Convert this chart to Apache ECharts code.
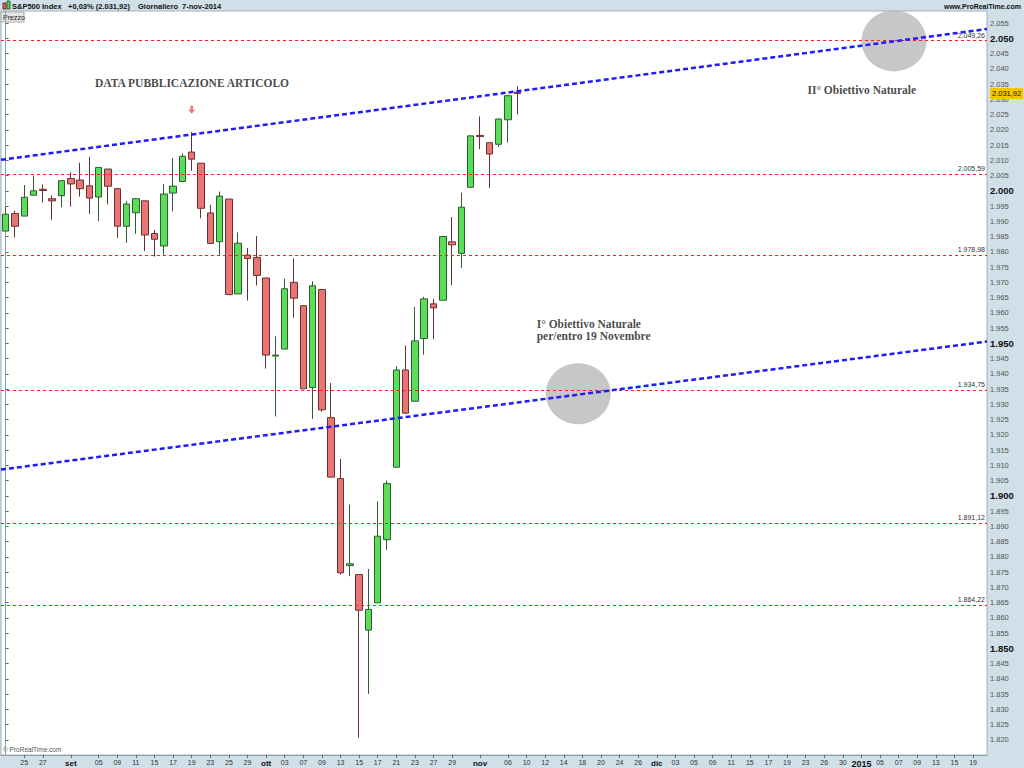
<!DOCTYPE html>
<html><head><meta charset="utf-8">
<script src="https://cdn.jsdelivr.net/npm/echarts@6/dist/echarts.min.js"></script>
<style>html,body{margin:0;padding:0;background:#fff}#c{width:1024px;height:768px}</style>
</head><body><div id="c"></div>
<script>
// ---------- DATA ----------
const dates = [
 '2014-08-21','2014-08-22','2014-08-25','2014-08-26','2014-08-27','2014-08-28','2014-08-29',
 '2014-09-02','2014-09-03','2014-09-04','2014-09-05','2014-09-08','2014-09-09','2014-09-10','2014-09-11','2014-09-12',
 '2014-09-15','2014-09-16','2014-09-17','2014-09-18','2014-09-19','2014-09-22','2014-09-23','2014-09-24','2014-09-25','2014-09-26',
 '2014-09-29','2014-09-30',
 '2014-10-01','2014-10-02','2014-10-03','2014-10-06','2014-10-07','2014-10-08','2014-10-09','2014-10-10','2014-10-13','2014-10-14',
 '2014-10-15','2014-10-16','2014-10-17','2014-10-20','2014-10-21','2014-10-22','2014-10-23','2014-10-24','2014-10-27','2014-10-28',
 '2014-10-29','2014-10-30','2014-10-31',
 '2014-11-03','2014-11-04','2014-11-05','2014-11-06','2014-11-07',
 '2014-11-10','2014-11-11','2014-11-12','2014-11-13','2014-11-14','2014-11-17','2014-11-18','2014-11-19','2014-11-20','2014-11-21',
 '2014-11-24','2014-11-25','2014-11-26','2014-11-28',
 '2014-12-01','2014-12-02','2014-12-03','2014-12-04','2014-12-05','2014-12-08','2014-12-09','2014-12-10','2014-12-11','2014-12-12',
 '2014-12-15','2014-12-16','2014-12-17','2014-12-18','2014-12-19','2014-12-22','2014-12-23','2014-12-24','2014-12-26',
 '2014-12-29','2014-12-30','2014-12-31',
 '2015-01-01','2015-01-02','2015-01-05','2015-01-06','2015-01-07','2015-01-08','2015-01-09','2015-01-12','2015-01-13','2015-01-14',
 '2015-01-15','2015-01-16','2015-01-19','2015-01-20'
];
const opens = [1986.82,1992.60,1991.74,1998.59,2000.54,1997.42,1998.45,
 2004.07,2003.57,2001.67,1998.00,2007.17,2000.73,1988.41,1992.85,1996.74,1986.04,1981.93,1999.30,2003.07,2012.74,2009.08,1992.78,1983.34,1997.32,1966.22,1978.96,1978.21,
 1971.44,1945.83,1948.12,1970.01,1962.36,1935.55,1967.68,1925.63,1905.65,1877.11,1874.18,1855.95,1864.91,1885.62,1909.38,1941.29,1931.02,1951.59,1962.97,1964.14,1983.29,1979.49,2001.20,
 2018.21,2015.81,2015.29,2023.33,2032.36];
const highs = [1994.76,1993.54,2001.95,2005.04,2002.14,1998.55,2003.38,
 2006.12,2009.28,2011.17,2007.71,2007.17,2001.01,1996.66,1997.65,1996.74,1987.18,2002.28,2010.74,2012.34,2019.26,2009.08,1995.41,1999.79,1997.32,1986.37,1981.28,1985.17,
 1971.44,1952.32,1971.19,1977.84,1962.36,1970.36,1967.68,1936.98,1912.09,1897.11,1874.18,1876.01,1898.16,1905.03,1942.45,1949.31,1961.95,1965.27,1964.64,1985.05,1991.40,1999.40,2018.19,
 2024.46,2015.98,2023.77,2031.61,2034.26];
const lows = [1986.82,1984.76,1991.74,1998.59,1996.20,1990.52,1994.65,
 1994.85,1998.14,1992.44,1990.10,1995.60,1984.61,1982.99,1985.93,1980.26,1978.48,1979.06,1993.29,2003.07,2006.59,1991.01,1982.77,1978.63,1965.99,1966.22,1964.04,1968.96,
 1941.72,1926.03,1948.12,1958.43,1935.10,1925.25,1927.56,1906.05,1874.14,1873.63,1820.66,1835.02,1864.91,1882.30,1909.38,1926.83,1931.02,1946.27,1951.37,1964.14,1969.04,1974.75,2001.20,
 2013.68,2001.01,2014.42,2015.86,2025.07];
const closes = [1992.37,1988.40,1997.92,2000.02,2000.12,1996.74,2003.37,
 2002.28,2000.72,1997.65,2007.71,2001.54,1988.44,1995.69,1997.45,1985.54,1984.13,1998.98,2001.57,2011.36,2010.40,1994.29,1982.77,1998.30,1965.99,1982.85,1977.80,1972.29,
 1946.16,1946.17,1967.90,1964.82,1935.10,1968.89,1928.21,1906.13,1874.74,1877.70,1862.49,1862.76,1886.76,1904.01,1941.28,1927.11,1950.82,1964.58,1961.63,1985.05,1982.30,1994.65,2018.05,
 2017.81,2012.10,2023.57,2031.21,2031.92];
const levels = [2049.26, 2005.59, 1978.98, 1934.75, 1891.12, 1864.22];
const lastPrice = 2031.92;
const upperTrend = [[-0.5, 2010.2], [105.5, 2053.1]];
const lowerTrend = [[-0.5, 1908.6], [105.5, 1950.6]];
const targets = [[61.55, 1933.5], [95.5, 2049.2]];
const tickDates = ['2014-08-25','2014-08-27','2014-09-02','2014-09-05','2014-09-09','2014-09-11','2014-09-15','2014-09-17','2014-09-19',
 '2014-09-23','2014-09-25','2014-09-29','2014-10-01','2014-10-03','2014-10-07','2014-10-09','2014-10-13','2014-10-15','2014-10-17',
 '2014-10-21','2014-10-23','2014-10-27','2014-10-29','2014-11-03','2014-11-06','2014-11-10','2014-11-12','2014-11-14','2014-11-18',
 '2014-11-20','2014-11-24','2014-11-26','2014-12-01','2014-12-03','2014-12-05','2014-12-09','2014-12-11','2014-12-15','2014-12-17',
 '2014-12-19','2014-12-23','2014-12-26','2014-12-30','2015-01-01','2015-01-05','2015-01-07','2015-01-09','2015-01-13','2015-01-15','2015-01-19'];
const tickTexts = ['25','27','set','05','09','11','15','17','19',
 '23','25','29','ott','03','07','09','13','15','17',
 '21','23','27','29','nov','06','10','12','14','18',
 '20','24','26','dic','03','05','09','11','15','17',
 '19','23','26','30','2015','05','07','09','13','15','19'];
const monthTexts = ['set','ott','nov','dic'];
const yearTexts = ['2015'];

// ---------- HELPERS ----------
function itNum(v, dec) {
  const s = v.toFixed(dec);
  const parts = s.split('.');
  const ip = parts[0].replace(/\B(?=(\d{3})+(?!\d))/g, '.');
  return parts[1] ? ip + ',' + parts[1] : ip;
}
const tickMap = {};
tickDates.forEach((d, i) => { tickMap[d] = tickTexts[i]; });
const showTick = (idx, val) => tickMap[val] !== undefined;

const ohlc = opens.map((o, i) => [o, closes[i], lows[i], highs[i]]);

const chart = echarts.init(document.getElementById('c'), null, {renderer: 'svg'});
const serif = '"Liberation Serif", "Times New Roman", serif';
const sans = '"Liberation Sans", Arial, sans-serif';
const noteLabel = {fontFamily: serif, fontWeight: 'bold', fontSize: 11.5, color: '#151515', lineHeight: 12};

chart.setOption({
  animation: false,
  backgroundColor: '#d0dfe8',
  grid: {left: 1, right: 37, top: 11, bottom: 13, show: true, backgroundColor: '#ffffff', borderColor: '#9fb2bd', borderWidth: 1},
  xAxis: [{
    type: 'category', data: dates, boundaryGap: true, position: 'bottom',
    axisLine: {show: true, lineStyle: {color: '#8fa3ae'}},
    axisTick: {show: true, interval: showTick, alignWithLabel: true, length: 3, lineStyle: {color: '#666'}},
    axisLabel: {
      interval: showTick, margin: 4, fontFamily: sans, fontSize: 7, color: '#333',
      formatter: (v) => {
        const t = tickMap[v];
        if (t === undefined) return '';
        if (yearTexts.includes(t)) return '{y|' + t + '}';
        if (monthTexts.includes(t)) return '{m|' + t + '}';
        return t;
      },
      rich: {
        m: {fontFamily: sans, fontWeight: 'bold', fontSize: 8, color: '#111'},
        y: {fontFamily: sans, fontWeight: 'bold', fontSize: 9, color: '#111'}
      }
    },
    splitLine: {show: false}
  }, {
    type: 'value', min: -0.5, max: 105.5, show: false
  }],
  yAxis: {
    type: 'value', position: 'right', min: 1815, max: 2059, interval: 5,
    splitLine: {show: false},
    axisLine: {show: true, lineStyle: {color: '#8fa3ae'}},
    axisTick: {show: true, length: 3, lineStyle: {color: '#666'}},
    axisLabel: {
      showMinLabel: false, showMaxLabel: false, margin: 3,
      formatter: (v) => (v % 50 === 0 ? '{b|' + itNum(v, 0) + '}' : '{n|' + itNum(v, 0) + '}'),
      rich: {
        b: {fontFamily: sans, fontWeight: 'bold', fontSize: 9.5, color: '#111'},
        n: {fontFamily: sans, fontSize: 7.5, color: '#555'}
      }
    }
  },
  series: [
    {
      type: 'scatter', xAxisIndex: 1, yAxisIndex: 0, z: 1, silent: true,
      data: targets, symbol: 'circle', symbolSize: [65, 61],
      itemStyle: {color: '#b9b9b9'}
    },
    {
      type: 'candlestick', xAxisIndex: 0, yAxisIndex: 0, z: 3, barWidth: 7,
      data: ohlc,
      itemStyle: {color: '#5ade5a', color0: '#e97474', borderColor: '#2e5e2e', borderColor0: '#6b3131', borderWidth: 1},
      markLine: {
        silent: true, symbol: 'none',
        lineStyle: {color: 'rgba(0,0,0,0)', width: 1},
        label: {
          position: 'end', distance: 3, formatter: () => itNum(lastPrice, 2),
          backgroundColor: '#f5c600', color: '#111', fontFamily: sans, fontSize: 7.5, padding: [2, 2, 1, 2]
        },
        data: [{yAxis: lastPrice}]
      }
    },
    {
      type: 'line', xAxisIndex: 1, yAxisIndex: 0, z: 5, silent: true,
      data: upperTrend, symbol: 'none',
      lineStyle: {color: '#1c1cff', width: 2.5, type: [5, 3]}
    },
    {
      type: 'line', xAxisIndex: 1, yAxisIndex: 0, z: 5, silent: true,
      data: lowerTrend, symbol: 'none',
      lineStyle: {color: '#1c1cff', width: 2.5, type: [5, 3]},
      markLine: {
        silent: true, symbol: 'none',
        lineStyle: {color: '#ff1c1c', width: 1.2, type: [3, 3]},
        label: {
          position: 'insideEndTop', distance: 2, formatter: (p) => itNum(p.value, 2),
          fontFamily: sans, fontSize: 7, color: '#333'
        },
        data: levels.map(v => ({yAxis: v}))
      }
    },
    {
      type: 'scatter', xAxisIndex: 1, yAxisIndex: 0, z: 6, silent: true,
      symbolSize: 0,
      data: [
        {value: [20.03, 2035.4], label: Object.assign({show: true, position: 'inside', formatter: 'DATA PUBBLICAZIONE ARTICOLO', align: 'center'}, noteLabel)},
        {value: [92.04, 2033.1], label: Object.assign({show: true, position: 'inside', formatter: 'II° Obiettivo Naturale', align: 'center'}, noteLabel)},
        {value: [57.09, 1954.4], label: Object.assign({show: true, position: 'right', distance: 0, formatter: 'I° Obiettivo Naturale\nper/entro 19 Novembre', align: 'left'}, noteLabel)}
      ]
    },
    {
      type: 'scatter', xAxisIndex: 1, yAxisIndex: 0, z: 6, silent: true,
      data: [[20, 2026.6]],
      symbol: 'path://M3,0 L7,0 L7,5 L10,5 L5,10 L0,5 L3,5 Z', symbolSize: [7, 8],
      itemStyle: {color: '#e35a5a'}
    }
  ],
  graphic: [
    {type: 'rect', shape: {x: 3, y: 3, width: 3, height: 6}, style: {fill: '#e06060', stroke: '#733'}, silent: true},
    {type: 'rect', shape: {x: 7, y: 1, width: 3, height: 8}, style: {fill: '#50d050', stroke: '#363'}, silent: true},
    {type: 'text', style: {x: 12, y: 6, text: 'S&P500 Index', fill: '#111', font: 'bold 7.5px ' + sans, verticalAlign: 'middle'}},
    {type: 'text', style: {x: 68, y: 6, text: '+0,03% (2.031,92)', fill: '#111', font: 'bold 7.5px ' + sans, verticalAlign: 'middle'}},
    {type: 'text', style: {x: 138, y: 6, text: 'Giornaliero', fill: '#111', font: 'bold 7.5px ' + sans, verticalAlign: 'middle'}},
    {type: 'text', style: {x: 182, y: 6, text: '7-nov-2014', fill: '#111', font: 'bold 7.5px ' + sans, verticalAlign: 'middle'}},
    {type: 'text', style: {x: 1021, y: 6, text: 'www.ProRealTime.com', fill: '#111', font: 'bold 7px ' + sans, verticalAlign: 'middle', align: 'right'}},
    {type: 'rect', shape: {x: 1, y: 12, width: 23, height: 10}, style: {fill: '#e3e3e3', stroke: '#b0b0b0'}, silent: true},
    {type: 'text', style: {x: 3, y: 17, text: 'Prezzo', fill: '#222', font: '7px ' + sans, verticalAlign: 'middle'}},
    {type: 'text', style: {x: 3, y: 749, text: '© ProRealTime.com', fill: '#555', font: '6.5px ' + sans, verticalAlign: 'middle'}}
  ]
});
</script>
</body></html>
